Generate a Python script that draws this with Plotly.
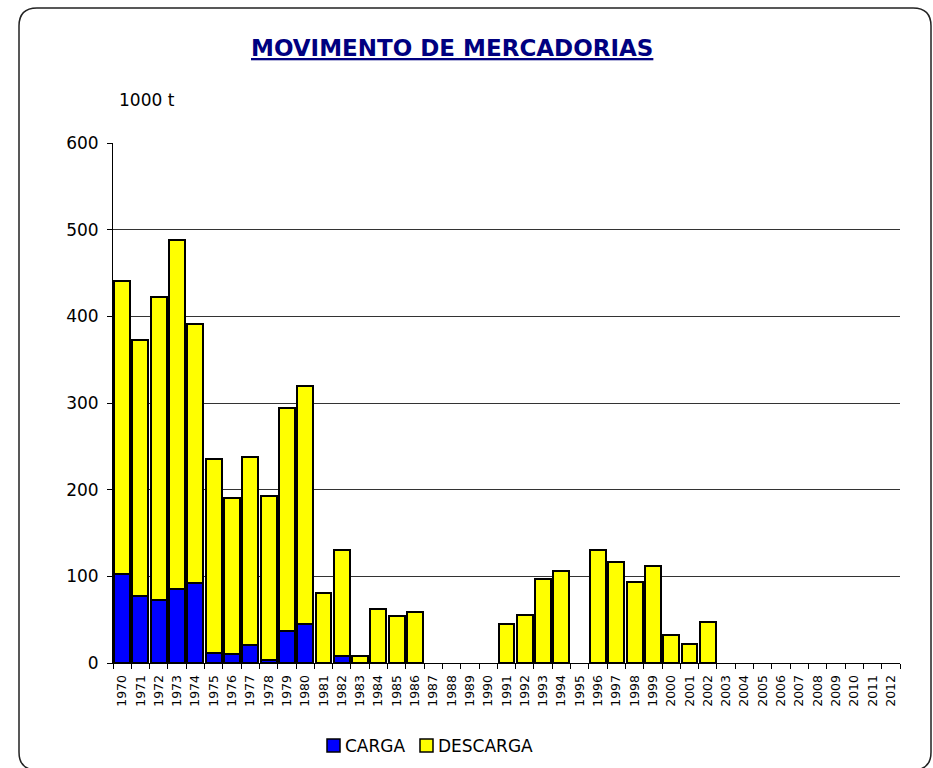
import plotly.graph_objects as go

years = [str(y) for y in range(1970, 2013)]
carga = [103, 77, 73, 85, 92, 11, 10, 21, 4, 37, 45, None, 8, None, None, None, None,
         None, None, None, None, None, None, None, None, None, None, None, None, None,
         None, None, None, None, None, None, None, None, None, None, None, None, None]
total = [441, 373, 422, 488, 391, 235, 190, 238, 193, 294, 320, 81, 130, 8, 62, 54, 59,
         None, None, None, None, 45, 55, 97, 106, None, 130, 117, 93, 112,
         32, 22, 47, None, None, None, None, None, None, None, None, None, None]
descarga = [None if t is None else t - (c or 0) for t, c in zip(total, carga)]

series_names = ["CARGA", "DESCARGA"]
series_colors = ["#0000FF", "#FFFF00"]
y_ticks = [0, 100, 200, 300, 400, 500, 600]

W, H = 933, 768
L, R, T, B = 113, 33, 143, 105
PW, PH = W - L - R, H - T - B

def px(x):
    return (x - L) / PW

def py(y):
    return (H - B - y) / PH

fig = go.Figure()
for name, vals, col in zip(series_names, [carga, descarga], series_colors):
    fig.add_trace(go.Bar(x=years, y=vals, name=name, showlegend=False,
                         marker=dict(color=col, line=dict(color="#000000", width=2))))

# rounded frame (page pixel coords)
x0, y0, x1, y1, r = 19, 8, 931, 770, 18
path = (f"M {px(x0+r)},{py(y0)} L {px(x1-r)},{py(y0)} Q {px(x1)},{py(y0)} {px(x1)},{py(y0+r)} "
        f"L {px(x1)},{py(y1-r)} Q {px(x1)},{py(y1)} {px(x1-r)},{py(y1)} "
        f"L {px(x0+r)},{py(y1)} Q {px(x0)},{py(y1)} {px(x0)},{py(y1-r)} "
        f"L {px(x0)},{py(y0+r)} Q {px(x0)},{py(y0)} {px(x0+r)},{py(y0)} Z")
shapes = [dict(type="path", xref="paper", yref="paper", path=path,
               line=dict(color="#222222", width=1.5), layer="below")]

annotations = [
    dict(text="<b><u>MOVIMENTO DE MERCADORIAS</u></b>", xref="paper", yref="paper",
         x=px(452), y=py(48), xanchor="center", yanchor="middle", showarrow=False,
         font=dict(size=23, color="#000080", family="DejaVu Sans")),
    dict(text="1000 t", xref="paper", yref="paper", x=px(117), y=py(100),
         xanchor="left", yanchor="middle", showarrow=False,
         font=dict(size=17, color="#000000", family="DejaVu Sans")),
]

# manual legend
leg_x = [327, 420]
for lx, name, col in zip(leg_x, series_names, series_colors):
    shapes.append(dict(type="rect", xref="paper", yref="paper",
                       x0=px(lx), x1=px(lx + 13), y0=py(752), y1=py(739),
                       fillcolor=col, line=dict(color="#000000", width=1.5)))
    annotations.append(dict(text=name, xref="paper", yref="paper", x=px(lx + 16), y=py(745.5),
                            xanchor="left", yanchor="middle", showarrow=False,
                            font=dict(size=17, color="#000000", family="DejaVu Sans")))

fig.update_layout(
    width=W, height=H,
    margin=dict(l=L, r=R, t=T, b=B, pad=0, autoexpand=False),
    paper_bgcolor="white", plot_bgcolor="white",
    barmode="stack", bargap=0.13,
    font=dict(family="DejaVu Sans", color="#000000"),
    showlegend=False,
    shapes=shapes,
    annotations=annotations,
)
fig.update_xaxes(type="category", categoryorder="array", categoryarray=years,
                 tickangle=-90, tickfont=dict(size=12.5), tickson="boundaries",
                 ticks="outside", ticklen=5, tickcolor="#000000", ticklabelstandoff=6,
                 showline=True, linecolor="#000000", linewidth=1, automargin=False,
                 showgrid=False, range=[-0.5, len(years) - 0.5])
fig.update_yaxes(range=[0, 600], tickvals=y_ticks, tickfont=dict(size=17),
                 ticks="outside", ticklen=5, tickcolor="#000000", ticklabelstandoff=5,
                 showline=True, linecolor="#000000", linewidth=1, automargin=False,
                 showgrid=True, gridcolor="#333333", gridwidth=1, zeroline=False)

fig.write_html("out.html", config={"displayModeBar": False},
               post_script="document.body.style.margin='0px';document.body.style.overflow='hidden';")
